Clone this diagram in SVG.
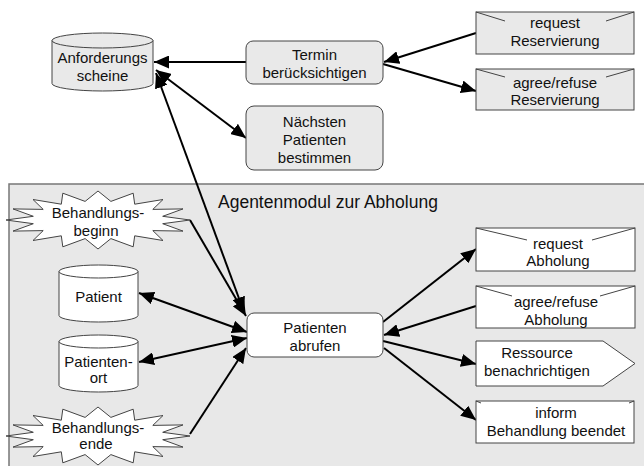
<svg xmlns="http://www.w3.org/2000/svg" width="644" height="466" viewBox="0 0 644 466">
<style>
text{font-family:"Liberation Sans",Arial,sans-serif;font-size:15px;fill:#111;text-anchor:middle}
.g{fill:#e9e9e9;stroke:#444;stroke-width:1}
.w{fill:#fff;stroke:#444;stroke-width:1}
.ln{fill:none;stroke:#444;stroke-width:1}
.c{fill:none;stroke:#000;stroke-width:2}
.e{marker-end:url(#ah)}
.b{marker-start:url(#ah);marker-end:url(#ah)}
</style>
<defs>
<marker id="ah" markerUnits="userSpaceOnUse" markerWidth="16" markerHeight="13" refX="15" refY="6.5" orient="auto-start-reverse">
<path d="M0,0 L15,6.5 L0,13 z" fill="#000"/>
</marker>
<path id="burst" d="M92,0 L64.7,3.7 L85,11.1 L54.8,10.6 L65,20.5 L36.7,15.8 L35.2,26.8 L12.9,18.6 L0,29 L-12.9,18.6 L-35.2,26.8 L-36.7,15.8 L-65,20.5 L-54.8,10.6 L-85,11.1 L-64.7,3.7 L-92,0 L-64.7,-3.7 L-85,-11.1 L-54.8,-10.6 L-65,-20.5 L-36.7,-15.8 L-35.2,-26.8 L-12.9,-18.6 L0,-29 L12.9,-18.6 L35.2,-26.8 L36.7,-15.8 L65,-20.5 L54.8,-10.6 L85,-11.1 L64.7,-3.7 Z"/>
</defs>
<rect width="644" height="466" fill="#fff"/>

<g id="agentenmodul">
<rect x="9" y="184" width="640" height="290" fill="#e8e8e8" stroke="#777" stroke-width="1.5"/>
<text x="218" y="208" style="text-anchor:start;font-size:17.5px">Agentenmodul zur Abholung</text>
</g>

<g id="connectors">
<path class="c e" d="M246,62 L154,62"/>
<path class="c b" d="M156,70 L246,138"/>
<path class="c b" d="M156,73 L244,312"/>
<path class="c e" d="M190,220 L246,316"/>
<path class="c b" d="M139,293 L247,332"/>
<path class="c b" d="M139,362 L247,338"/>
<path class="c e" d="M190,434 L246,348"/>
<path class="c e" d="M383,322 L476,249"/>
<path class="c e" d="M476,306 L384,335"/>
<path class="c e" d="M383,341 L476,364"/>
<path class="c e" d="M384,348 L476,420"/>
<path class="c e" d="M476,33 L384,62"/>
<path class="c e" d="M383,64 L476,91"/>
</g>

<g id="anforderungsscheine">
<path class="g" d="M52,40.5 A50.5,7.5 0 0 1 153,40.5 V83.5 A50.5,7.5 0 0 1 52,83.5 Z"/>
<path class="ln" d="M52,40.5 A50.5,7.5 0 0 0 153,40.5"/>
<text x="102.5" y="63">Anforderungs</text>
<text x="102.5" y="81">scheine</text>
</g>

<g id="termin">
<rect class="g" x="246" y="41" width="137" height="43" rx="7"/>
<text x="314.5" y="60">Termin</text>
<text x="314.5" y="78">berücksichtigen</text>
</g>

<g id="naechsten">
<rect class="g" x="246" y="106" width="137" height="64" rx="8"/>
<text x="314.5" y="127">Nächsten</text>
<text x="314.5" y="145">Patienten</text>
<text x="314.5" y="163">bestimmen</text>
</g>

<g id="request-reservierung">
<rect class="g" x="476" y="12" width="158" height="42"/>
<path class="ln" d="M476,12 L505,21 M634,12 L606,21"/>
<text x="555" y="28">request</text>
<text x="555" y="46">Reservierung</text>
</g>

<g id="agree-reservierung">
<rect class="g" x="476" y="69" width="158" height="41"/>
<path class="ln" d="M476,69 L505,77 M634,69 L606,77"/>
<text x="555" y="88">agree/refuse</text>
<text x="555" y="105">Reservierung</text>
</g>

<g id="behandlungsbeginn">
<use href="#burst" transform="translate(98,220)" class="w"/>
<text x="98" y="218">Behandlungs-</text>
<text x="96" y="236">beginn</text>
</g>

<g id="patient">
<path class="w" d="M59,271.5 A39.5,6.5 0 0 1 138,271.5 V315.5 A39.5,6.5 0 0 1 59,315.5 Z"/>
<path class="ln" d="M59,271.5 A39.5,6.5 0 0 0 138,271.5"/>
<text x="98.5" y="302">Patient</text>
</g>

<g id="patientenort">
<path class="w" d="M59,341.5 A39.5,6.5 0 0 1 138,341.5 V385.5 A39.5,6.5 0 0 1 59,385.5 Z"/>
<path class="ln" d="M59,341.5 A39.5,6.5 0 0 0 138,341.5"/>
<text x="98.5" y="367">Patienten-</text>
<text x="98.5" y="383">ort</text>
</g>

<g id="behandlungsende">
<use href="#burst" transform="translate(98,436)" class="w"/>
<text x="98" y="433">Behandlungs-</text>
<text x="96" y="449">ende</text>
</g>

<g id="patienten-abrufen">
<rect class="w" x="247" y="313" width="136" height="44" rx="7"/>
<text x="315" y="333">Patienten</text>
<text x="315" y="351">abrufen</text>
</g>

<g id="request-abholung">
<rect class="w" x="476" y="228" width="159" height="43"/>
<path class="ln" d="M476,228 L527,240 M635,228 L592,240"/>
<text x="558" y="249">request</text>
<text x="558" y="266">Abholung</text>
</g>

<g id="agree-abholung">
<rect class="w" x="476" y="286" width="159" height="42"/>
<path class="ln" d="M476,286 L512,296 M635,286 L600,296"/>
<text x="556" y="307">agree/refuse</text>
<text x="556" y="325">Abholung</text>
</g>

<g id="ressource">
<path class="w" d="M476,341 L603,341 L635,363.5 L603,386 L476,386 Z"/>
<text x="537" y="358">Ressource</text>
<text x="537" y="376">benachrichtigen</text>
</g>

<g id="inform">
<rect class="w" x="476" y="401" width="158" height="42"/>
<path class="ln" d="M476,401 L481,403 M634,401 L629,403"/>
<text x="556" y="418">inform</text>
<text x="556" y="436">Behandlung beendet</text>
</g>
</svg>
